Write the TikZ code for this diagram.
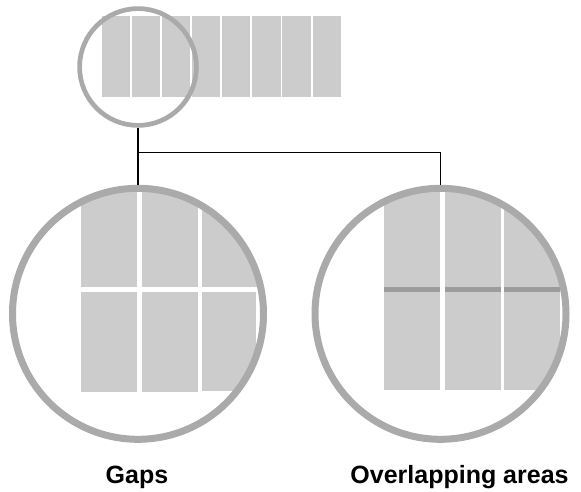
\documentclass[tikz,border=0pt]{standalone}
\usepackage{fontspec}
\setmainfont{Liberation Sans}
\usepackage{tikz}
\usetikzlibrary{positioning}

\definecolor{tilegray}{HTML}{CCCCCC}
\definecolor{ringgray}{HTML}{AAAAAA}
\definecolor{seamgray}{HTML}{9C9C9C}

\begin{document}
\begin{tikzpicture}[
  x=1pt, y=-1pt,
  lens/.style={circle, draw=ringgray, inner sep=0pt},
  tile/.style={fill=tilegray},
  lab/.style={font=\bfseries\fontsize{25}{29}\selectfont, anchor=base, inner sep=0pt},
  link/.style={line width=1.6pt}
]
  \useasboundingbox (0,0) rectangle (581,491);

  % strip of panels
  \foreach \i in {0,...,7}
    \fill[tile] (101.8+30.1*\i,16) rectangle ++(28.2,80.7);
  \node[lens, line width=4.7pt, minimum size=116.8pt] (zoom) at (138,67) {};

  % gaps view
  \begin{scope}
    \clip (138,313.8) circle[radius=125.5];
    \foreach \x in {81,142.3}{
      \fill[tile] (\x,180) rectangle ++(55.5,106.7);
      \fill[tile] (\x,291.7) rectangle ++(55.5,100);
    }
    \fill[tile] (201.7,180) rectangle (256.7,286.7);
    \fill[tile] (201.7,291.7) rectangle (256,390.7);
  \end{scope}
  \node[lens, line width=7pt, minimum size=251pt] (gaps) at (138,313.8) {};

  % overlap view
  \begin{scope}
    \clip (440.5,313.8) circle[radius=125.5];
    \foreach \x in {384.3,445,504}{
      \fill[tile] (\x,180) rectangle ++(55.5,210);
      \fill[seamgray] (\x,286.7) rectangle ++(55.5,5);
    }
  \end{scope}
  \node[lens, line width=7pt, minimum size=251pt] (over) at (440.5,313.8) {};

  \coordinate (fork) at (138,152.3);
  \draw[link] (zoom.south) -- (fork) -| (over.north);
  \draw[link] (fork) -- (gaps.north);

  \node[lab] (gapslab) at (137,483.5) {Gaps};
  \node[lab] (overlab) at (459.5,483.5) {Overlapping areas};
\end{tikzpicture}
\end{document}
